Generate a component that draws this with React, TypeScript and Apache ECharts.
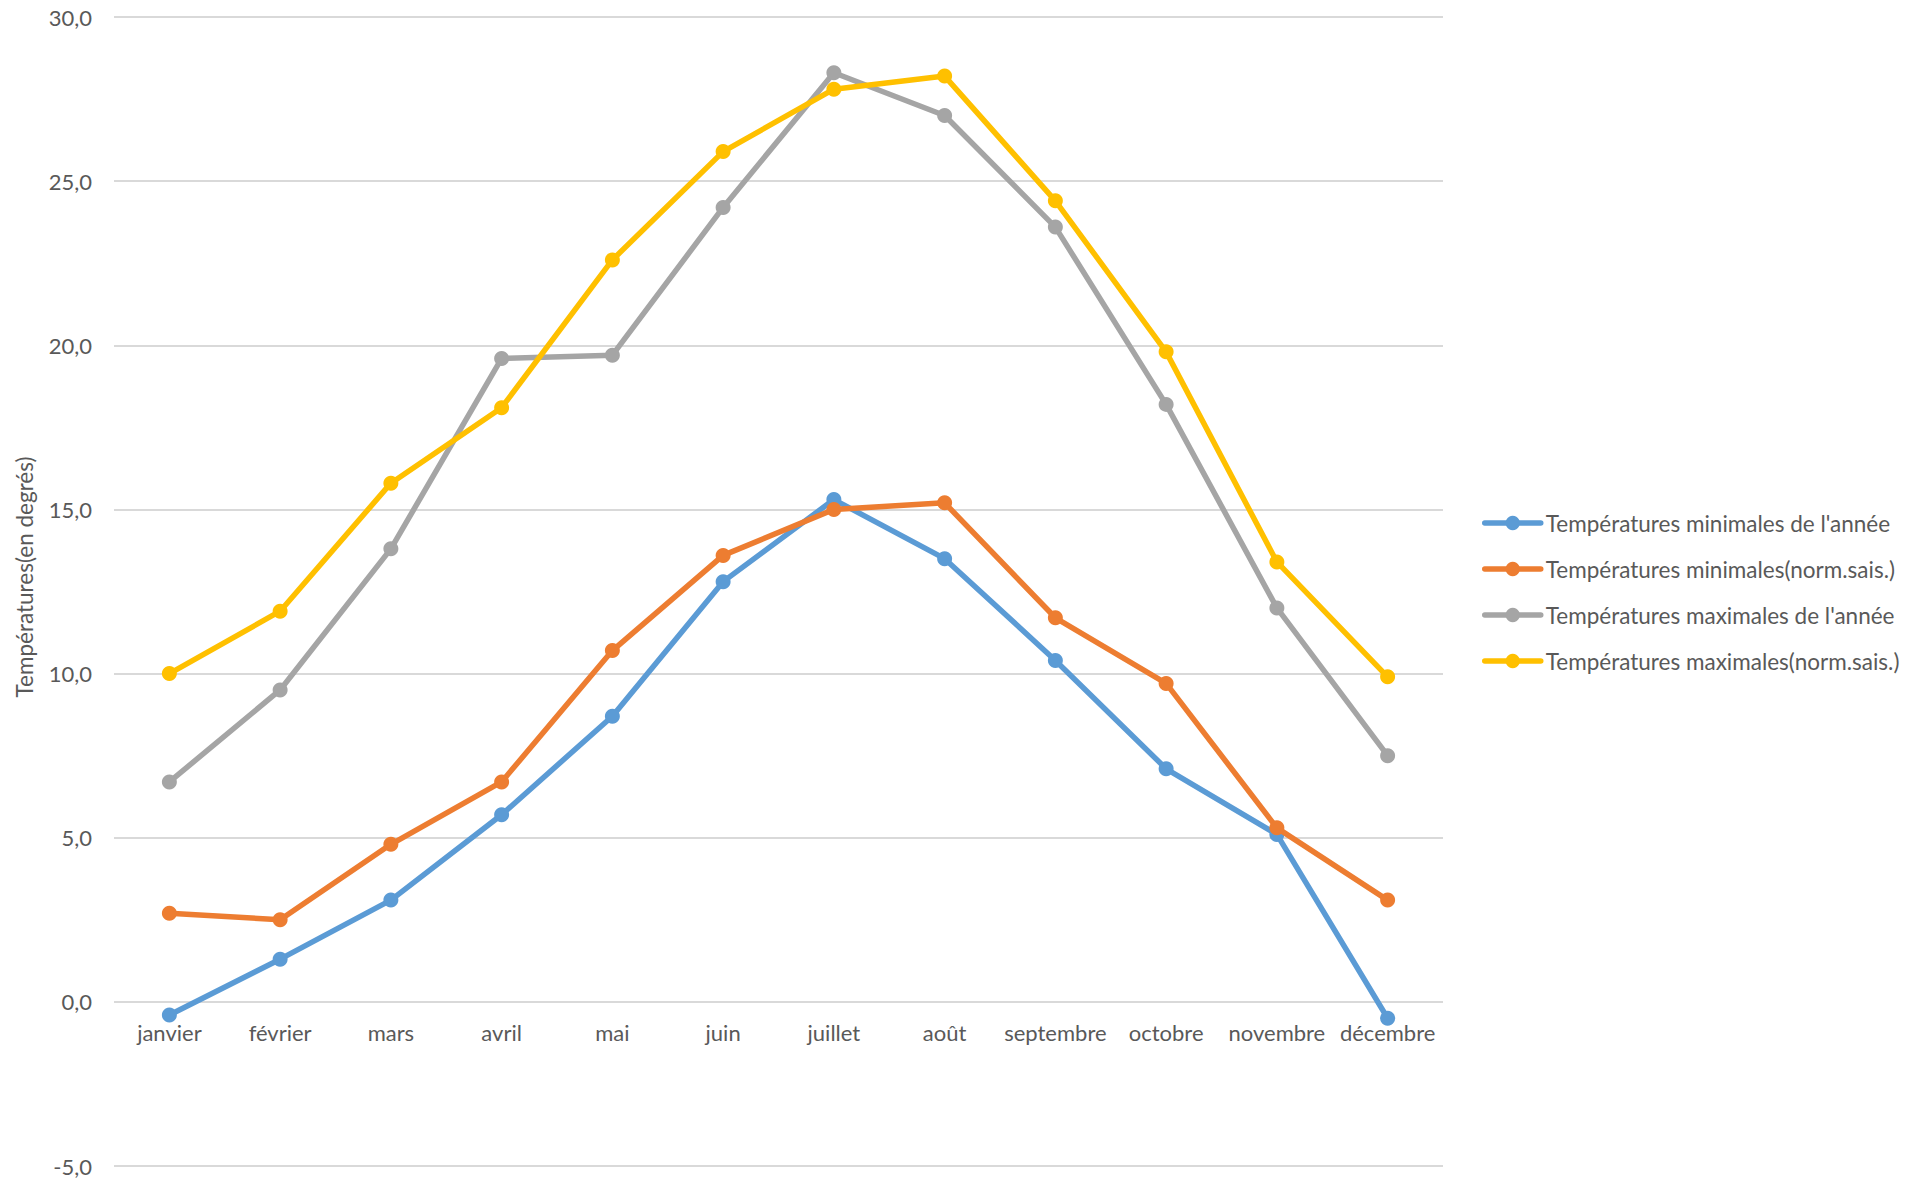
import React, { useEffect, useRef } from "react";
import * as echarts from "echarts";

const months = [
  "janvier", "février", "mars", "avril", "mai", "juin",
  "juillet", "août", "septembre", "octobre", "novembre", "décembre",
];

const minAnnee = [-0.4, 1.3, 3.1, 5.7, 8.7, 12.8, 15.3, 13.5, 10.4, 7.1, 5.1, -0.5];
const minNorm = [2.7, 2.5, 4.8, 6.7, 10.7, 13.6, 15.0, 15.2, 11.7, 9.7, 5.3, 3.1];
const maxAnnee = [6.7, 9.5, 13.8, 19.6, 19.7, 24.2, 28.3, 27.0, 23.6, 18.2, 12.0, 7.5];
const maxNorm = [10.0, 11.9, 15.8, 18.1, 22.6, 25.9, 27.8, 28.2, 24.4, 19.8, 13.4, 9.9];

const seriesNames = [
  "Températures minimales de l'année",
  "Températures minimales(norm.sais.)",
  "Températures maximales de l'année",
  "Températures maximales(norm.sais.)",
];
const seriesColors = ["#5B9BD5", "#ED7D31", "#A5A5A5", "#FFC000"];
const seriesData = [minAnnee, minNorm, maxAnnee, maxNorm];

const yAxisTitle = "Températures(en degrés)";
const yMin = -5;
const yMax = 30;
const yStep = 5;

const W = 1925;
const H = 1182;
const gridTop = 17;
const gridBottom = 16;

export default function App() {
  const ref = useRef<HTMLDivElement>(null);

  useEffect(() => {
    if (!ref.current) return;
    const chart = echarts.init(ref.current, undefined, { renderer: "svg" });
    const font = "Lato, 'Open Sans', sans-serif";
    const plotH = H - gridTop - gridBottom;
    // category axis crosses the value axis at 0 (like the original)
    const zeroOffset = -((0 - yMin) / (yMax - yMin)) * plotH;
    chart.setOption({
      animation: false,
      backgroundColor: "#ffffff",
      textStyle: { fontFamily: font, color: "#595959" },
      grid: {
        left: 114,
        right: 482,
        top: gridTop,
        bottom: gridBottom,
        containLabel: false,
        outerBoundsMode: "none",
      },
      legend: {
        orient: "vertical",
        left: 1482,
        top: 510,
        padding: 0,
        itemWidth: 56,
        itemHeight: 18,
        itemGap: 20,
        data: seriesNames,
        lineStyle: { width: 5.5 },
        textStyle: { fontFamily: font, fontSize: 22.5, color: "#595959", lineHeight: 26 },
      },
      xAxis: {
        type: "category",
        data: months,
        boundaryGap: true,
        offset: zeroOffset,
        axisLine: { show: false, onZero: false },
        axisTick: { show: false },
        axisLabel: { fontFamily: font, fontSize: 22, color: "#595959", margin: 20, interval: 0 },
        splitLine: { show: false },
      },
      yAxis: {
        type: "value",
        min: yMin,
        max: yMax,
        interval: yStep,
        name: yAxisTitle,
        nameLocation: "middle",
        nameGap: 78,
        nameTextStyle: { fontFamily: font, fontSize: 22.5, color: "#595959", padding: [0, 0, 0, 29] },
        axisLine: { show: false },
        axisTick: { show: false },
        axisLabel: {
          fontFamily: font,
          fontSize: 22,
          color: "#595959",
          margin: 22,
          formatter: (v: number) => v.toFixed(1).replace(".", ","),
        },
        splitLine: { lineStyle: { color: "#D9D9D9", width: 2 } },
      },
      series: seriesNames.map((name, i) => ({
        name,
        type: "line",
        data: seriesData[i],
        color: seriesColors[i],
        symbol: "circle",
        symbolSize: 15,
        lineStyle: { width: 5.5, color: seriesColors[i], cap: "round", join: "round" },
        itemStyle: { color: seriesColors[i] },
        z: 2 + i,
      })),
    });
    return () => chart.dispose();
  }, []);

  return (
    <div
      ref={ref}
      style={{ position: "fixed", left: 0, top: 0, width: W, height: H, background: "#fff" }}
    />
  );
}
